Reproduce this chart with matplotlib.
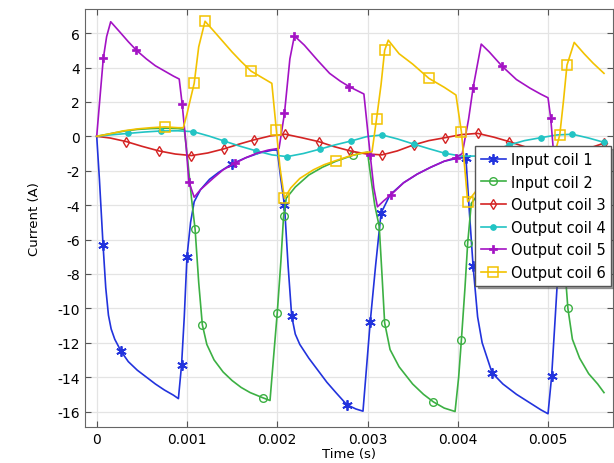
import matplotlib
matplotlib.use("Agg")
import matplotlib.pyplot as plt
import numpy as np

plt.rcParams['font.family'] = ['DejaVu Sans']
plt.rcParams['axes.unicode_minus'] = False

# time in ms, current in A
coil1_t = [0.00, 0.03, 0.07, 0.10, 0.13, 0.16, 0.20, 0.27, 0.35, 0.45, 0.55, 0.65, 0.75, 0.85, 0.905,
           0.94, 0.97, 1.00, 1.04, 1.08, 1.15, 1.25, 1.35, 1.50, 1.65, 1.80, 1.95, 2.00, 2.04, 2.08,
           2.12, 2.16, 2.20, 2.25, 2.35, 2.45, 2.55, 2.65, 2.77, 2.87, 2.95, 3.03, 3.09, 3.15, 3.25,
           3.40, 3.55, 3.70, 3.85, 4.00, 4.09, 4.13, 4.17, 4.22, 4.27, 4.38, 4.50, 4.65, 4.80, 4.92,
           5.00, 5.04, 5.08, 5.12, 5.16, 5.25, 5.40, 5.60]
coil1_i = [0, -2.5, -6.3, -8.8, -10.4, -11.2, -11.8, -12.5, -13.1, -13.6, -14.0, -14.4, -14.75, -15.05, -15.25,
           -13.3, -10.5, -7.0, -5.0, -3.8, -3.1, -2.5, -2.1, -1.6, -1.25, -0.97, -0.8, -0.8, -2.5, -4.0,
           -7.5, -10.45, -11.5, -12.1, -12.9, -13.6, -14.3, -14.9, -15.6, -15.85, -15.98, -10.8, -7.5, -4.47, -3.4,
           -2.7, -2.2, -1.8, -1.45, -1.27, -1.24, -4.5, -7.56, -10.5, -12.0, -13.75, -14.4, -15.0, -15.5, -15.9,
           -16.13, -13.95, -10.5, -7.0, -4.6, -3.4, -2.6, -2.0]
coil1_marks = [2, 7, 15, 17, 23, 29, 31, 38, 41, 43, 50, 52, 55, 61]

coil2_t = [0.00, 0.15, 0.30, 0.45, 0.60, 0.75, 0.90, 0.97, 1.01, 1.05, 1.09, 1.13, 1.17, 1.22, 1.30,
           1.40, 1.50, 1.60, 1.70, 1.84, 1.92, 1.96, 2.00, 2.04, 2.07, 2.10, 2.20, 2.35, 2.50, 2.65,
           2.84, 3.00, 3.04, 3.08, 3.13, 3.16, 3.19, 3.25, 3.35, 3.50, 3.62, 3.73, 3.85, 3.97, 4.01,
           4.04, 4.08, 4.11, 4.15, 4.25, 4.40, 4.55, 4.70, 4.85, 5.00, 5.06, 5.12, 5.17, 5.22, 5.27,
           5.35, 5.45, 5.55, 5.62]
coil2_i = [0, 0.15, 0.3, 0.4, 0.45, 0.47, 0.45, 0.4, -1.5, -3.6, -5.4, -8.5, -10.95, -12.1, -13.0,
           -13.7, -14.2, -14.6, -14.9, -15.2, -15.36, -12.8, -10.27, -7.3, -4.66, -3.6, -2.95, -2.25, -1.8, -1.45,
           -1.1, -0.92, -2.5, -4.0, -5.24, -8.0, -10.85, -12.4, -13.4, -14.4, -15.0, -15.44, -15.8, -16.0, -14.0,
           -11.85, -8.8, -6.2, -3.9, -3.2, -2.5, -2.0, -1.65, -1.4, -1.2, -2.5, -4.2, -6.5, -10.0, -11.8,
           -12.9, -13.8, -14.4, -14.9]
coil2_marks = [10, 12, 19, 22, 24, 30, 34, 36, 41, 45, 47, 58]

coil3_t = [0.00, 0.15, 0.33, 0.50, 0.69, 0.87, 1.05, 1.23, 1.41, 1.58, 1.74, 1.92, 2.09, 2.27, 2.46,
           2.63, 2.81, 2.98, 3.16, 3.33, 3.51, 3.68, 3.86, 4.04, 4.22, 4.40, 4.57, 4.75, 4.92, 5.10,
           5.27, 5.45, 5.62]
coil3_i = [0, -0.1, -0.31, -0.58, -0.85, -1.03, -1.12, -0.97, -0.73, -0.45, -0.21, 0.02, 0.12, -0.08, -0.31,
           -0.6, -0.85, -1.02, -1.08, -0.85, -0.5, -0.25, -0.08, 0.1, 0.17, -0.05, -0.31, -0.62, -0.88, -1.05,
           -0.95, -0.7, -0.4]

coil4_t = [0.00, 0.15, 0.35, 0.53, 0.71, 0.90, 1.07, 1.24, 1.41, 1.59, 1.77, 1.94, 2.11, 2.29, 2.47,
           2.64, 2.82, 2.99, 3.16, 3.33, 3.51, 3.68, 3.86, 4.04, 4.22, 4.39, 4.57, 4.74, 4.92, 5.10,
           5.27, 5.45, 5.62]
coil4_i = [0, 0.08, 0.17, 0.25, 0.31, 0.32, 0.27, 0.02, -0.27, -0.58, -0.85, -1.08, -1.18, -1.0, -0.75,
           -0.5, -0.27, -0.02, 0.08, -0.15, -0.45, -0.72, -0.99, -1.15, -1.15, -0.85, -0.5, -0.25, -0.08, 0.08,
           0.12, -0.1, -0.35]

coil5_t = [0.00, 0.04, 0.073, 0.11, 0.155, 0.25, 0.35, 0.44, 0.55, 0.65, 0.75, 0.85, 0.914, 0.947, 0.99,
           1.02, 1.08, 1.15, 1.29, 1.40, 1.53, 1.65, 1.77, 1.90, 2.02, 2.08, 2.14, 2.19, 2.30, 2.45,
           2.58, 2.70, 2.80, 2.96, 3.03, 3.07, 3.11, 3.18, 3.26, 3.40, 3.55, 3.70, 3.85, 3.98, 4.05,
           4.12, 4.17, 4.26, 4.35, 4.49, 4.65, 4.80, 4.92, 5.00, 5.03, 5.07, 5.12, 5.20, 5.35, 5.50,
           5.62]
coil5_i = [0, 2.5, 4.53, 5.8, 6.66, 6.1, 5.5, 5.0, 4.5, 4.1, 3.8, 3.5, 3.33, 1.86, -0.5,
           -2.63, -3.54, -3.1, -2.44, -1.95, -1.57, -1.25, -0.99, -0.8, -0.7, 1.33, 4.5, 5.84, 5.3, 4.4,
           3.66, 3.2, 2.88, 2.46, -1.08, -3.0, -4.1, -3.75, -3.4, -2.7, -2.2, -1.8, -1.45, -1.24, -1.0,
           1.0, 2.83, 5.36, 4.9, 4.08, 3.3, 2.8, 2.45, 2.24, 1.04, -1.5, -3.6, -3.4, -2.7, -2.2,
           -1.9]
coil5_marks = [2, 7, 13, 15, 20, 25, 27, 32, 34, 38, 43, 46, 49, 54]

coil6_t = [0.00, 0.15, 0.30, 0.45, 0.60, 0.755, 0.90, 0.96, 1.00, 1.04, 1.08, 1.13, 1.20, 1.30, 1.40,
           1.50, 1.60, 1.71, 1.82, 1.94, 1.99, 2.03, 2.08, 2.15, 2.25, 2.40, 2.52, 2.65, 2.80, 2.95,
           3.05, 3.10, 3.15, 3.19, 3.23, 3.35, 3.50, 3.68, 3.85, 3.98, 4.04, 4.08, 4.11, 4.20, 4.35,
           4.50, 4.65, 4.80, 4.95, 5.08, 5.13, 5.17, 5.21, 5.29, 5.40, 5.50, 5.62]
coil6_i = [0, 0.15, 0.32, 0.43, 0.5, 0.55, 0.5, 0.5, 1.3, 2.2, 3.08, 5.2, 6.69, 6.1, 5.5,
           4.9, 4.35, 3.79, 3.45, 3.08, 0.37, -1.8, -3.6, -3.0, -2.45, -1.95, -1.65, -1.41, -1.15, -0.95,
           -0.9, 1.0, 3.0, 5.0, 5.59, 4.8, 4.2, 3.37, 2.85, 2.4, 0.27, -2.0, -3.8, -3.2, -2.5,
           -2.0, -1.6, -1.3, -1.05, -0.9, 0.08, 2.0, 4.14, 5.46, 4.8, 4.25, 3.66]
coil6_marks = [5, 10, 12, 17, 20, 22, 27, 31, 33, 37, 40, 42, 50, 52]

labels = ['Input coil 1', 'Input coil 2', 'Output coil 3', 'Output coil 4', 'Output coil 5', 'Output coil 6']

fig = plt.figure(figsize=(6.14, 4.64), dpi=100)
ax = fig.add_axes([0.1384, 0.0776, 0.8600, 0.9008])

def ms(t):
    return np.array(t) * 1e-3

ax.plot(ms(coil1_t), coil1_i, color='#2233dd', lw=1.2, marker=(6, 2, 0), ms=7.5, mew=1.3,
        markevery=coil1_marks, label=labels[0])
ax.plot(ms(coil2_t), coil2_i, color='#3cb043', lw=1.2, marker='o', ms=5.5, mfc='none', mew=1.0,
        markevery=coil2_marks, label=labels[1])
ax.plot(ms(coil3_t), coil3_i, color='#d42424', lw=1.2, marker='d', ms=5, mfc='none', mew=1.0,
        markevery=(2, 2), label=labels[2])
ax.plot(ms(coil4_t), coil4_i, color='#22c4c4', lw=1.2, marker='o', ms=4, mew=0.8,
        markevery=(2, 2), label=labels[3])
ax.plot(ms(coil5_t), coil5_i, color='#a312c4', lw=1.2, marker='P', ms=6, mew=0.5,
        markevery=coil5_marks, label=labels[4])
ax.plot(ms(coil6_t), coil6_i, color='#f2c200', lw=1.2, marker='s', ms=6.5, mfc='none', mew=1.1,
        markevery=coil6_marks, label=labels[5])

ax.set_xlim(-0.00013, 0.00572)
ax.set_ylim(-16.9, 7.4)
ax.set_xticks([0, 0.001, 0.002, 0.003, 0.004, 0.005])
ax.set_xticklabels(['0', '0.001', '0.002', '0.003', '0.004', '0.005'])
ax.set_yticks(range(-16, 7, 2))
ax.grid(True, color='#e4e4e4', lw=0.9)
ax.set_axisbelow(True)
ax.tick_params(direction='in', top=True, right=True, labelsize=10, length=4, color='#555555')
for s in ax.spines.values():
    s.set_color('#666666')

ax.set_xlabel('Time (s)', fontsize=9.5, labelpad=1)
ax.set_ylabel('Current (A)', fontsize=9.5, labelpad=12)

leg = ax.legend(loc='upper left', bbox_to_anchor=(0.7386, 0.672), fontsize=10.5, fancybox=False,
                shadow=True, framealpha=1, edgecolor='#555555', handlelength=1.7,
                handletextpad=0.35, borderpad=0.4, labelspacing=0.52, borderaxespad=0)

fig.savefig('out.png', dpi=100)
